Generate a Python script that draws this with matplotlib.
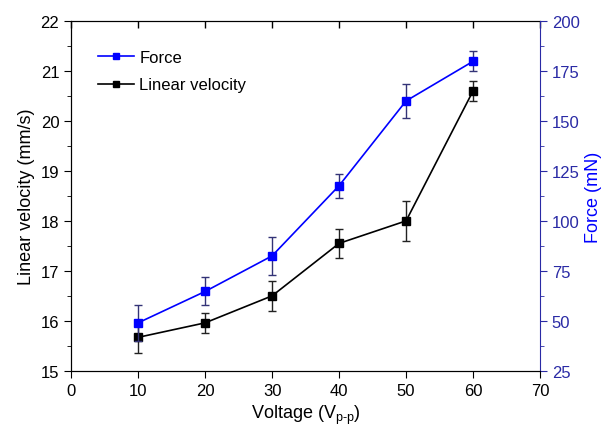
import matplotlib
matplotlib.use('Agg')
import matplotlib.pyplot as plt
import numpy as np
from matplotlib.ticker import MultipleLocator
from matplotlib.lines import Line2D

plt.rcParams['font.family'] = ['Liberation Sans', 'DejaVu Sans']
plt.rcParams['mathtext.fontset'] = 'custom'
plt.rcParams['mathtext.rm'] = 'Liberation Sans'
plt.rcParams['mathtext.it'] = 'Liberation Sans'

# Data
voltage = [10, 20, 30, 40, 50, 60]
velocity = [15.67, 15.96, 16.5, 17.55, 18.0, 20.6]
velocity_err = [0.31, 0.2, 0.3, 0.29, 0.4, 0.2]
force = [49, 64.7, 82.5, 117.6, 160, 179.8]
force_err = [9, 7, 9.5, 6, 8.7, 5]

blue = '#0000ff'
axis_blue = '#2a2aa5'

fig, ax1 = plt.subplots(figsize=(6.13, 4.39), dpi=100)
fig.subplots_adjust(left=0.116, right=0.881, bottom=0.153, top=0.95)
ax3 = ax1.twiny()  # only for inward ticks along the top
ax2 = ax1.twinx()

# Linear velocity (left axis)
ax1.errorbar(voltage, velocity, yerr=velocity_err, fmt='-s', color='black',
             ecolor='#222222', elinewidth=1, capsize=3, markersize=5.5,
             linewidth=1.2)
# Force (right axis)
ax2.errorbar(voltage, force, yerr=force_err, fmt='-s', color=blue,
             ecolor='#333377', elinewidth=1, capsize=3, markersize=5.5,
             linewidth=1.2)

ax1.set_xlim(0, 70)
ax3.set_xlim(0, 70)
ax1.set_ylim(15, 22)
ax2.set_ylim(25, 200)
ax1.xaxis.set_major_locator(MultipleLocator(10))
ax3.xaxis.set_major_locator(MultipleLocator(10))
ax1.yaxis.set_major_locator(MultipleLocator(1))
ax1.yaxis.set_minor_locator(MultipleLocator(0.5))
ax2.yaxis.set_major_locator(MultipleLocator(25))
ax2.yaxis.set_minor_locator(MultipleLocator(12.5))

ax1.tick_params(axis='x', which='major', direction='out', labelsize=12, length=5)
ax1.tick_params(axis='y', which='major', direction='out', labelsize=12, length=5)
ax1.tick_params(axis='y', which='minor', direction='out', length=3)
ax2.tick_params(axis='y', which='major', direction='out', colors=axis_blue, labelsize=12, length=5)
ax2.tick_params(axis='y', which='minor', direction='out', colors=axis_blue, length=3)
ax2.spines['right'].set_color(axis_blue)
ax1.spines['right'].set_visible(False)
for side in ['left', 'right', 'bottom']:
    ax3.spines[side].set_visible(False)
ax2.spines['top'].set_visible(False)
ax3.tick_params(axis='x', direction='in', length=5, width=1, labeltop=False, top=True)

ax1.set_xlabel(r'Voltage (V$_{\mathrm{p\text{-}p}}$)', fontsize=13)
ax1.set_ylabel('Linear velocity (mm/s)', fontsize=13)
ax2.set_ylabel('Force (mN)', fontsize=13, color=blue)

handles = [Line2D([], [], color=blue, marker='s', markersize=5, linewidth=1.2),
           Line2D([], [], color='black', marker='s', markersize=5, linewidth=1.2)]
ax1.legend(handles, ['Force', 'Linear velocity'], loc='upper left',
           frameon=False, fontsize=12, bbox_to_anchor=(0.025, 0.96),
           handlelength=2.2, handletextpad=0.3, labelspacing=0.75)

plt.savefig('out.png', dpi=100)
